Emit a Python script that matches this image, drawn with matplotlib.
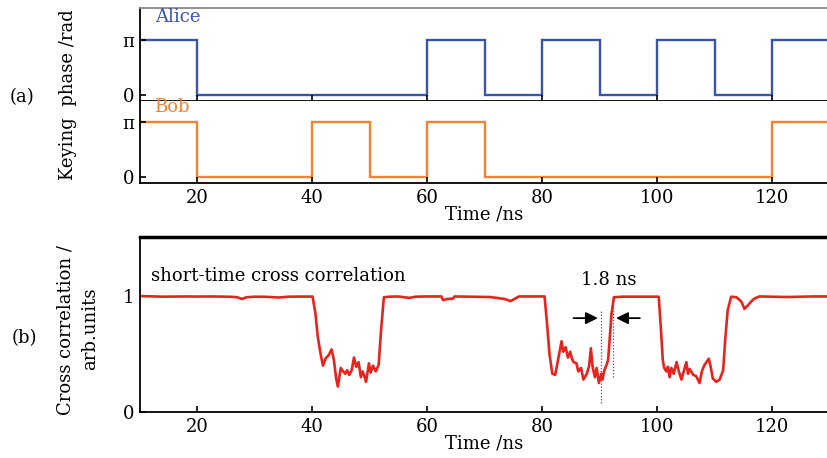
import numpy as np
import matplotlib
matplotlib.use("Agg")
import matplotlib.pyplot as plt

plt.rcParams['font.family'] = ['DejaVu Serif']
plt.rcParams['mathtext.fontset'] = 'dejavuserif'

# ---- data ----
edges = [10, 20, 40, 50, 60, 70, 80, 90, 100, 110, 120, 130]
alice_phase = [1, 0, 0, 0, 1, 0, 1, 0, 1, 0, 1]   # in units of pi
bob_phase   = [1, 0, 1, 0, 1, 0, 0, 0, 0, 0, 1]   # in units of pi
phase_ticks = [0, 1]
phase_ticklabels = ['0', 'π']
time_ticks = [20, 40, 60, 80, 100, 120]

t_corr = [10, 12, 14, 16, 18, 20, 22, 24, 26, 27, 27.8, 28.6, 30, 32, 34.2, 36, 38, 40.1,
          40.6, 41.0, 41.5, 41.9, 42.4, 42.9, 43.4, 43.8, 44.2, 44.5, 45.0, 45.4, 45.8, 46.1,
          46.5, 46.9, 47.3, 47.7, 48.1, 48.5, 48.8, 49.1, 49.4, 49.9, 50.2, 50.6, 51.1, 51.6,
          52.0, 52.5, 53.5, 55, 56, 57, 58, 60, 62.5, 62.8, 63.5, 64.5, 64.8, 67, 69, 71, 72,
          73.5, 74.5, 75.2, 76, 78, 80.45,
          80.9, 81.3, 81.8, 82.3, 82.8, 83.4, 83.7, 84.1, 84.5, 84.9, 85.2, 85.5, 86.0, 86.3,
          86.8, 87.2, 87.8, 88.2, 88.5, 88.8, 89.2, 89.5, 89.9, 90.3, 90.5, 90.85, 91.25, 91.5,
          92.1, 92.5, 94, 96, 98, 100.3,
          100.7, 101.0, 101.25, 101.65, 101.9, 102.2, 102.5, 102.9, 103.4, 103.8, 104.25, 104.7,
          105.1, 105.4, 105.7, 106.3, 106.8, 107.4, 107.8, 108.2, 108.6, 109.0, 109.3, 109.7,
          110.3, 110.9, 111.5, 111.9, 112.3, 112.9, 113.8, 114.3, 114.7, 115.2, 115.8, 116.5,
          117.0, 117.8, 120, 122.7, 125, 127, 130]
v_corr = [1.0, 0.998, 0.995, 0.996, 0.997, 0.996, 0.997, 0.996, 0.994, 0.99, 0.975, 0.99, 0.995, 0.994, 0.988, 0.995, 0.996, 0.996,
          0.85, 0.65, 0.50, 0.40, 0.465, 0.49, 0.54, 0.45, 0.29, 0.22, 0.38, 0.35, 0.33, 0.36,
          0.32, 0.36, 0.47, 0.39, 0.43, 0.30, 0.35, 0.31, 0.26, 0.42, 0.34, 0.40, 0.35, 0.41,
          0.70, 0.99, 0.995, 0.997, 0.99, 0.985, 0.995, 0.997, 0.997, 0.965, 0.975, 0.978, 0.997, 0.995, 0.993, 0.992, 0.985,
          0.975, 0.957, 0.975, 0.997, 0.997, 0.997,
          0.75, 0.50, 0.33, 0.32, 0.45, 0.61, 0.52, 0.56, 0.47, 0.52, 0.46, 0.43, 0.42, 0.35,
          0.38, 0.28, 0.33, 0.40, 0.55, 0.39, 0.30, 0.38, 0.25, 0.33, 0.28, 0.36, 0.41, 0.45,
          0.85, 0.99, 0.995, 0.995, 0.995, 0.995,
          0.70, 0.45, 0.38, 0.35, 0.39, 0.30, 0.38, 0.33, 0.43, 0.35, 0.28, 0.36,
          0.43, 0.33, 0.37, 0.32, 0.31, 0.25, 0.35, 0.40, 0.43, 0.46, 0.40, 0.29,
          0.26, 0.28, 0.36, 0.65, 0.88, 0.995, 0.99, 0.97, 0.95, 0.89, 0.92, 0.96,
          0.98, 0.997, 0.995, 0.992, 0.995, 0.997, 0.997]

blue = '#3a55a8'
orange = '#f4822f'
red = '#e8231d'

W, H = 827, 458
fig = plt.figure(figsize=(W / 100, H / 100), dpi=100)

def frac(l, t, r, b):
    return [l / W, 1 - b / H, (r - l) / W, (b - t) / H]

axA = fig.add_axes(frac(139.5, 8, 829.5, 101))
axB = fig.add_axes(frac(139.5, 101, 829.5, 183))
axC = fig.add_axes(frac(139.5, 237, 829.5, 412))

fs = 13
for ax in (axA, axB, axC):
    ax.set_xlim(10, 130)
    ax.set_xticks(time_ticks)
    ax.tick_params(direction='in', length=4, width=1.2, labelsize=fs, pad=4)
    for s in ax.spines.values():
        s.set_linewidth(1.3)

axA.stairs(alice_phase, edges, color=blue, lw=1.7, baseline=None)
axB.stairs(bob_phase, edges, color=orange, lw=1.7, baseline=None)

axA.set_ylim(-0.109, 1.582)
axB.set_ylim(-0.109, 1.382)
for ax in (axA, axB):
    ax.set_yticks(phase_ticks)
    ax.set_yticklabels(phase_ticklabels)
    ax.spines['right'].set_visible(False)
axA.tick_params(labelbottom=False)
axA.spines['top'].set_color('#888888')
axB.spines['top'].set_visible(False)
axA.text(12.8, 1.42, 'Alice', color=blue, fontsize=fs, ha='left', va='center')
axB.text(12.6, 1.27, 'Bob', color=orange, fontsize=fs, ha='left', va='center')
axB.set_xlabel('Time /ns', fontsize=fs, labelpad=-1)

axC.plot(t_corr, v_corr, color=red, lw=1.9)
axC.set_ylim(0, 1.51)
axC.set_yticks([0, 1])
axC.set_yticklabels(['0', '1'])
axC.spines['top'].set_linewidth(2.5)
axC.spines['right'].set_visible(False)
axC.set_xlabel('Time /ns', fontsize=fs, labelpad=-1)
axC.text(12.0, 1.17, 'short-time cross correlation', fontsize=fs, ha='left', va='center')
axC.text(91.6, 1.14, '1.8 ns', fontsize=fs, ha='center', va='center')
axC.plot([90.3, 90.3], [0.075, 0.88], color='#555555', lw=0.9, ls=(0, (1, 1.5)))
axC.plot([92.3, 92.3], [0.30, 0.97], color='#555555', lw=0.9, ls=(0, (1, 1.5)))
axC.annotate('', xy=(90.2, 0.81), xytext=(85.0, 0.81),
             arrowprops=dict(arrowstyle='-|>', color='black', lw=1.3, mutation_scale=18))
axC.annotate('', xy=(92.4, 0.81), xytext=(97.5, 0.81),
             arrowprops=dict(arrowstyle='-|>', color='black', lw=1.3, mutation_scale=18))

# labels
fig.text(68 / W, 1 - 95 / H, 'Keying  phase /rad', rotation=90, fontsize=fs,
         ha='center', va='center')
fig.text(22 / W, 1 - 97 / H, '(a)', fontsize=fs, ha='center', va='center')
fig.text(24 / W, 1 - 338 / H, '(b)', fontsize=fs, ha='center', va='center')
fig.text(65 / W, 1 - 330 / H, 'Cross correlation /', rotation=90, fontsize=fs,
         ha='center', va='center')
fig.text(90 / W, 1 - 329 / H, 'arb.units', rotation=90, fontsize=fs,
         ha='center', va='center')

fig.savefig('out.png', dpi=100)
